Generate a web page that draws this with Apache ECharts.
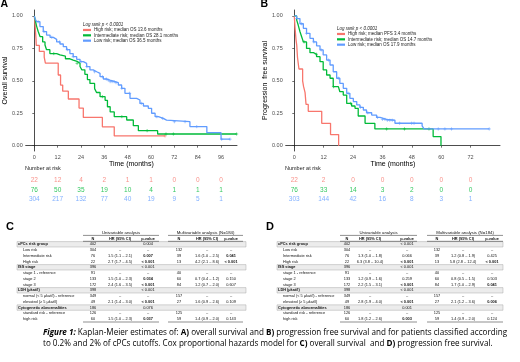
<!DOCTYPE html>
<html lang="en" style="height: 100%">
<head>
<meta charset="utf-8">
<title>Kaplan-Meier cPCs risk groups</title>
</head>
<body style="height: 100%; margin: 0; background: #ffffff">
<div id="container" style="width: 520px; height: 362px"></div>

<script type="text/javascript" src="https://cdn.jsdelivr.net/npm/echarts/dist/echarts.min.js"></script>

<script type="text/javascript">
var dom = document.getElementById('container');
var myChart = echarts.init(dom);

var colHigh = '#F8766D', colInt = '#00BA38', colLow = '#619CFF';
var FONT = '"Liberation Sans", Arial, sans-serif';

// A) overall survival: [months, survival]
var osHigh = [[0,1],[0.3,0.955],[0.5,0.909],[0.7,0.864],[0.9,0.818],[1.0,0.773],[2.6,0.727],[5.1,0.682],[5.7,0.636],
  [12.3,0.545],[13.5,0.467],[14.6,0.42],[17.5,0.36],[23.0,0.29],[25.2,0.218],[35.0,0.145],[41.1,0.075],[67.2,0.075]];
var osInt = [[0,1],[0.6,0.96],[1.2,0.92],[2,0.88],[3,0.84],[4.3,0.80],[5.5,0.776],[6.3,0.74],[8,0.71],[11.5,0.70],
  [13.2,0.69],[16,0.67],[18.3,0.66],[20,0.65],[22,0.635],[23.5,0.61],[24.4,0.585],[26,0.55],[27.3,0.51],[28.6,0.48],
  [31,0.44],[32,0.41],[33.8,0.378],[36.4,0.35],[37.6,0.30],[39,0.26],[41.1,0.224],[47.5,0.198],[50.9,0.154],
  [53.5,0.116],[63.4,0.09],[104,0.09]];
var osLow = [[0,1],[0.5,0.975],[1.2,0.956],[2.9,0.918],[4.6,0.88],[6.3,0.853],[8.1,0.835],[9.8,0.82],[11.5,0.80],
  [13.2,0.784],[14.9,0.763],[16.6,0.74],[18.3,0.71],[20,0.686],[21.8,0.666],[23.5,0.648],[25.2,0.635],[26.9,0.61],
  [28.6,0.584],[30.3,0.57],[32.1,0.558],[33.8,0.532],[35.5,0.514],[37.2,0.506],[38.9,0.494],[41.5,0.486],[43.2,0.468],
  [44.9,0.442],[46.6,0.404],[49.2,0.365],[52.6,0.352],[54.3,0.326],[56.1,0.306],[58.6,0.288],[60.3,0.25],
  [62.1,0.224],[63.8,0.21],[66.3,0.197],[68,0.185],[80,0.147],[88.7,0.10],[96,0.05],[100.6,0.05]];

// B) progression free survival: [months, survival]
var pfsHigh = [[0,1],[0.3,0.909],[0.7,0.818],[1.0,0.773],[1.3,0.682],[1.9,0.591],[3.4,0.5],[3.8,0.455],[4.4,0.409],
  [4.8,0.318],[5.7,0.265],[11.2,0.172],[14.8,0.086],[18.1,0]];
var pfsInt = [[0,1],[0.95,0.97],[1.6,0.93],[2.3,0.88],[3,0.84],[3.7,0.80],[5,0.75],[6.4,0.717],[7.8,0.705],[9.1,0.686],
  [10.5,0.648],[11.8,0.584],[13.2,0.545],[14.6,0.52],[15.9,0.455],[18,0.442],[18.6,0.416],[20,0.39],[21.4,0.326],
  [23.4,0.306],[24.8,0.288],[26.1,0.229],[28.9,0.172],[32.9,0.129],[56.7,0.07],[59.9,0]];
var pfsLow = [[0,1],[0.95,0.98],[2.3,0.94],[3.7,0.905],[5,0.866],[6.4,0.828],[7.8,0.80],[9.1,0.77],[10.5,0.738],
  [11.8,0.70],[13.2,0.66],[14.6,0.622],[15.9,0.57],[17.3,0.52],[18.6,0.48],[20,0.442],[21.4,0.404],[22.7,0.365],
  [24.1,0.34],[25.5,0.314],[26.8,0.296],[28.2,0.275],[29.5,0.254],[31.6,0.236],[33.6,0.218],[35,0.203],[37.7,0.196],
  [41.1,0.173],[52.2,0.152],[53,0.129],[79.6,0.129]];

// censoring times (months)
var censOsHigh = [67.2];
var censOsInt = [10, 22, 35, 45, 58, 67.7, 71.5, 104];
var censOsLow = [2, 5, 9, 13, 17, 20, 24, 27, 31, 35, 37, 38, 39, 40, 41, 42, 45, 49, 55, 63, 66, 72, 77.5, 83.5, 96.3, 100.6];
var censPfsInt = [4, 9, 16, 23, 37.7, 45, 55];
var censPfsLow = [1, 3, 5, 8, 11, 14, 18, 22, 27, 30, 34, 36, 37, 38, 39, 40, 43, 47.9, 48.9, 58.8, 61.5, 64.2, 79.6];

var namesA = ['High risk; median OS 13.6 months', 'Intermediate risk; median OS 28.1 months', 'Low risk; median OS 36.5 months'];
var namesB = ['High risk; median PFS 3.4 months', 'Intermediate risk; median OS 14.7 months', 'Low risk; median OS 17.9 months'];

// number at risk
var riskRows = ['High', 'Intermediate', 'Low'];
var riskTimesA = [0, 12, 24, 36, 48, 60, 72, 84, 96];
var riskA = [[22,12,4,2,1,1,0,0,0], [76,50,35,19,10,4,1,1,1], [304,217,132,77,40,19,9,5,1]];
var riskTimesB = [0, 12, 24, 36, 48, 60, 72];
var riskB = [[22,2,0,0,0,0,0], [76,33,14,3,2,0,0], [303,144,42,16,8,3,1]];

var ticksA = [0, 12, 24, 36, 48, 60, 72, 84, 96];
var ticksB = [0, 12, 24, 36, 48, 60, 72];
var ticksY = [0, 0.25, 0.5, 0.75, 1];

// Cox tables
var tblLabels = ['cPCs risk group','Low risk','Intermediate risk','High risk','ISS stage','stage 1 - reference','stage 2','stage 3',
  'LDH (µkat/l)','normal (< 5 µkat/l) - reference','elevated (≥ 5 µkat/l)','Cytogenetic abnormalities','standard risk - reference','high risk'];
var groupRows = [0, 4, 8, 11];
var uniN = ['402','304','76','22','396','91','133','172','398','349','49','186','126','60'];
var multiN = ['','132','39','13','','40','60','84','','157','27','','125','59'];
var osUniHR = ['','–','1.5 (1.1 – 2.1)','2.7 (1.7 – 4.5)','','–','1.5 (1.0 – 2.3)','2.4 (1.6 – 3.5)','','–','2.1 (1.4 – 3.0)','','–','1.5 (1.0 – 2.3)'];
var osUniP = ['0.004','–','0.007','< 0.001','< 0.001','–','0.034','< 0.001','< 0.001','–','< 0.001','0.076','–','0.037'];
var osMultiHR = ['','–','1.6 (1.0 – 2.5)','4.2 (2.1 – 8.6)','','–','0.7 (0.4 – 1.2)','1.2 (0.7 – 2.0)','','–','1.6 (0.9 – 2.6)','','–','1.4 (0.9 – 2.0)'];
var osMultiP = ['','–','0.041','< 0.001','','–','0.150','0.607','','–','0.109','','–','0.143'];
var pfsUniHR = ['','–','1.3 (1.0 – 1.8)','6.3 (3.8 – 10.4)','','–','1.2 (0.9 – 1.6)','2.2 (1.5 – 3.1)','','–','2.8 (1.9 – 4.0)','','–','1.8 (1.2 – 2.6)'];
var pfsUniP = ['< 0.001','–','0.066','< 0.001','< 0.001','–','0.259','< 0.001','< 0.001','–','< 0.001','0.001','–','0.003'];
var pfsMultiHR = ['','–','1.2 (0.8 – 1.9)','5.8 (2.8 – 12.4)','','–','0.8 (0.5 – 1.5)','1.7 (1.0 – 2.9)','','–','2.1 (1.2 – 3.6)','','–','1.4 (0.9 – 2.0)'];
var pfsMultiP = ['','–','0.425','< 0.001','','–','0.503','0.041','','–','0.006','','–','0.124'];

function kmSeries(name, data, color, xi) {
  return {
    name: name, type: 'line', step: 'end', data: data, xAxisIndex: xi, yAxisIndex: xi,
    showSymbol: false, symbol: 'none', animation: false,
    lineStyle: { color: color, width: 1.3 }, itemStyle: { color: color }
  };
}

// survival value at time t
function kmAt(curve, t) {
  var v = curve[0][1];
  for (var i = 0; i < curve.length; i++) {
    if (curve[i][0] <= t) v = curve[i][1];
  }
  return v;
}

function censorSeries(times, curve, color, xi) {
  return {
    type: 'scatter', xAxisIndex: xi, yAxisIndex: xi, silent: true, animation: false,
    symbol: 'path://M0,5L10,5M5,0L5,10', symbolSize: 3.2,
    data: times.map(function (t) { return [t, kmAt(curve, t)]; }),
    itemStyle: { color: 'rgba(0,0,0,0)', borderColor: color, borderWidth: 0.7 }
  };
}

function riskSeries(times, rows, xi) {
  var cols = [colHigh, colInt, colLow];
  return rows.map(function (vals, r) {
    return {
      type: 'scatter', xAxisIndex: xi, yAxisIndex: xi, symbolSize: 0, animation: false, silent: true,
      data: times.map(function (t, i) { return [t, riskRows[r], vals[i]]; }),
      label: { show: true, position: 'inside', formatter: function (p) { return p.value[2]; },
        fontSize: 6.5, fontFamily: FONT, color: cols[r] }
    };
  });
}

function plotAxes(xmin, xmax, xticks, yname) {
  var axisLine = { show: true, lineStyle: { color: '#000', width: 0.7 } };
  return {
    x: {
      type: 'value', min: xmin, max: xmax,
      name: 'Time (months)', nameLocation: 'middle', nameGap: 10,
      nameTextStyle: { fontSize: 7, fontFamily: FONT, color: '#000' },
      axisLine: axisLine, splitLine: { show: false },
      axisTick: { customValues: xticks, length: 2, lineStyle: { color: '#333', width: 0.7 } },
      axisLabel: { customValues: xticks, fontSize: 5.5, fontFamily: FONT, color: '#4d4d4d', margin: 3 }
    },
    y: {
      type: 'value', min: -0.041, max: 1.046,
      name: yname, nameLocation: 'middle', nameGap: 17,
      nameTextStyle: { fontSize: 7, fontFamily: FONT, color: '#000' },
      axisLine: axisLine, splitLine: { show: false },
      axisTick: { customValues: ticksY, length: 2, lineStyle: { color: '#333', width: 0.7 } },
      axisLabel: { customValues: ticksY, fontSize: 5.5, fontFamily: FONT, color: '#4d4d4d', margin: 3,
        formatter: function (v) { return v.toFixed(2); } }
    }
  };
}

var axA = plotAxes(-4.42, 104.2, ticksA, 'Overall survival');
var axB = plotAxes(-3.51, 84.0, ticksB, 'Progression  free survival');
axA.x.gridIndex = 0; axA.y.gridIndex = 0;
axB.x.gridIndex = 2; axB.y.gridIndex = 2;

function riskAxes(gi, xmin, xmax) {
  return {
    x: { type: 'value', gridIndex: gi, min: xmin, max: xmax, show: false },
    y: { type: 'category', gridIndex: gi, data: riskRows, inverse: true, show: false }
  };
}
var rA = riskAxes(1, -4.42, 104.2);
var rB = riskAxes(3, -3.51, 84.0);

// table drawing with graphic text
function buildTable(cfg, uniHR, uniP, multiHR, multiP) {
  var els = [];
  var y0 = 244.3, dy = 5.75, fs = 3.9;
  function txt(s, x, y, align, bold, size) {
    els.push({ type: 'text', silent: true, style: { text: s, x: x, y: y, align: align, verticalAlign: 'middle',
      font: (bold ? 'bold ' : '') + (size || fs) + 'px ' + FONT, fill: '#111' } });
  }
  function hline(x1, x2, y, w) {
    els.push({ type: 'line', silent: true, shape: { x1: x1, y1: y, x2: x2, y2: y }, style: { stroke: '#444', lineWidth: w || 0.5 } });
  }
  groupRows.forEach(function (r) {
    els.push({ type: 'rect', silent: true, shape: { x: cfg.bandL, y: y0 + r * dy - 2.7, width: cfg.bandR - cfg.bandL, height: 5.4 },
      style: { fill: '#ececec', stroke: '#9a9a9a', lineWidth: 0.4 } });
  });
  txt('Univariable analysis', (cfg.u1 + cfg.u2) / 2, 232.7, 'center', false, 4.3);
  txt('Multivariable analysis (N=184)', (cfg.m1 + cfg.m2) / 2, 232.7, 'center', false, 4.3);
  hline(cfg.u1, cfg.u2, 235.4, 0.6); hline(cfg.m1, cfg.m2, 235.4, 0.6);
  [['N', cfg.n], ['HR (95% CI)', cfg.hr], ['p-value', cfg.p], ['N', cfg.mn], ['HR (95% CI)', cfg.mhr], ['p-value', cfg.mp]]
    .forEach(function (h) { txt(h[0], h[1], 239.0, 'center', true, 3.9); });
  hline(cfg.u1, cfg.u2, 241.3, 0.6); hline(cfg.m1, cfg.m2, 241.3, 0.6);
  tblLabels.forEach(function (lab, r) {
    var y = y0 + r * dy;
    var isGroup = groupRows.indexOf(r) >= 0;
    txt(lab, isGroup ? cfg.bandL + 1 : cfg.bandL + 6, y, 'left', isGroup, fs);
    txt(uniN[r], cfg.n, y, 'center', false, fs);
    txt(uniHR[r], cfg.hr, y, 'center', false, fs);
    var pb = !isGroup && uniP[r] !== '–' && (uniP[r].charAt(0) === '<' || parseFloat(uniP[r]) < 0.05);
    txt(uniP[r], cfg.p, y, 'center', pb, fs);
    txt(multiN[r], cfg.mn, y, 'center', false, fs);
    txt(multiHR[r], cfg.mhr, y, 'center', false, fs);
    var mb = multiP[r] !== '–' && multiP[r] !== '' && (multiP[r].charAt(0) === '<' || parseFloat(multiP[r]) < 0.05);
    txt(multiP[r], cfg.mp, y, 'center', mb, fs);
  });
  hline(cfg.u1, cfg.u2, 322, 0.6); hline(cfg.m1, cfg.m2, 322, 0.6);
  return els;
}

var cfgC = { bandL: 17, bandR: 246, u1: 83, u2: 159, m1: 168, m2: 243, n: 93, hr: 120, p: 148, mn: 179, mhr: 207, mp: 231 };
var cfgD = { bandL: 277, bandR: 503, u1: 340, u2: 417, m1: 427, m2: 503, n: 347, hr: 370, p: 407, mn: 437, mhr: 463, mp: 492 };

var graphics = [];
function gtext(s, x, y, font, fill, align) {
  graphics.push({ type: 'text', silent: true, style: { text: s, x: x, y: y, font: font, fill: fill || '#000',
    align: align || 'left', verticalAlign: 'middle' } });
}
gtext('A', 0.5, 4.5, 'bold 10.5px ' + FONT);
gtext('B', 260.5, 4.5, 'bold 10.5px ' + FONT);
gtext('C', 6, 227, 'bold 11px ' + FONT);
gtext('D', 266, 227, 'bold 11px ' + FONT);
gtext('Log rank p < 0.0001', 83, 24.3, 'italic 4.5px ' + FONT, '#222');
gtext('Log rank p < 0.0001', 337, 29, 'italic 4.5px ' + FONT, '#222');
gtext('Number at risk', 25, 168.7, '5.5px ' + FONT, '#222');
gtext('Number at risk', 285, 168.7, '5.5px ' + FONT, '#222');
graphics = graphics.concat(buildTable(cfgC, osUniHR, osUniP, osMultiHR, osMultiP));
graphics = graphics.concat(buildTable(cfgD, pfsUniHR, pfsUniP, pfsMultiHR, pfsMultiP));

var capFont = '"Open Sans", "DejaVu Sans", sans-serif';
var capSize = 8.1;
var capRich = {
  bi: { fontFamily: capFont, fontSize: capSize, fontWeight: 'bold', fontStyle: 'italic', fill: '#000' },
  b: { fontFamily: capFont, fontSize: capSize, fontWeight: 'bold', fill: '#000' },
  n: { fontFamily: capFont, fontSize: capSize, fill: '#000' }
};
graphics.push({ type: 'text', silent: true, style: { x: 43, y: 332.3, verticalAlign: 'middle', rich: capRich,
  text: '{bi|Figure 1:}{n| Kaplan-Meier estimates of: }{b|A)}{n| overall survival and }{b|B)}{n| progression free survival and for patients classified according}' } });
graphics.push({ type: 'text', silent: true, style: { x: 43, y: 344, verticalAlign: 'middle', rich: capRich,
  text: '{n|to 0.2% and 2% of cPCs cutoffs. Cox proportional hazards model for }{b|C)}{n| overall survival  and }{b|D)}{n| progression free survival.}' } });

function legendFor(names, left, top) {
  return {
    data: names, left: left, top: top, orient: 'vertical', padding: 0, itemGap: 0,
    itemWidth: 8, itemHeight: 2.2, icon: 'rect', selectedMode: false,
    textStyle: { fontSize: 4.5, fontFamily: FONT, color: '#222', lineHeight: 5.35, padding: [0, 0, 0, -2] }
  };
}

var option = {
  animation: false,
  backgroundColor: '#ffffff',
  legend: [legendFor(namesA, 83, 27.3), legendFor(namesB, 337, 31.3)],
  grid: [
    { left: 25.7, top: 10, width: 211.3, height: 141 },
    { left: 25.7, top: 176, width: 211.3, height: 28 },
    { left: 285.7, top: 10, width: 214.3, height: 141 },
    { left: 285.7, top: 176, width: 214.3, height: 28 }
  ],
  xAxis: [axA.x, rA.x, axB.x, rB.x],
  yAxis: [axA.y, rA.y, axB.y, rB.y],
  series: [
    kmSeries(namesA[0], osHigh, colHigh, 0),
    kmSeries(namesA[1], osInt, colInt, 0),
    kmSeries(namesA[2], osLow, colLow, 0),
    kmSeries(namesB[0], pfsHigh, colHigh, 2),
    kmSeries(namesB[1], pfsInt, colInt, 2),
    kmSeries(namesB[2], pfsLow, colLow, 2),
    censorSeries(censOsHigh, osHigh, colHigh, 0),
    censorSeries(censOsInt, osInt, colInt, 0),
    censorSeries(censOsLow, osLow, colLow, 0),
    censorSeries(censPfsInt, pfsInt, colInt, 2),
    censorSeries(censPfsLow, pfsLow, colLow, 2)
  ].concat(riskSeries(riskTimesA, riskA, 1)).concat(riskSeries(riskTimesB, riskB, 3)),
  graphic: graphics
};

if (option && typeof option === 'object') {
  myChart.setOption(option);
}

window.addEventListener('resize', myChart.resize);
</script>
</body>
</html>
